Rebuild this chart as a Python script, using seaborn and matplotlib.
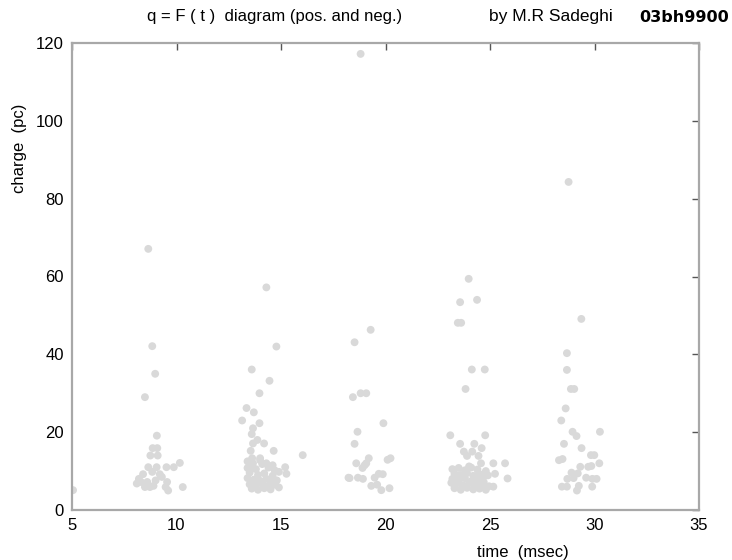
import numpy as np
import pandas as pd
import matplotlib
matplotlib.use("Agg")
import matplotlib.pyplot as plt
import seaborn as sns

# time (msec) / charge (pc), one burst at a time
t_burst1 = [5.05, 8.65, 8.84, 8.98, 8.49, 9.06, 8.86, 9.08, 8.75, 9.1, 8.65, 9.05, 9.52, 9.87,
            10.16, 8.4, 8.84, 9.2, 8.3, 8.6, 9.0, 9.55, 8.49, 8.73, 9.48, 10.3, 9.6, 8.2, 8.9,
            9.3, 8.1]
q_burst1 = [5.1, 67.1, 42.1, 35.0, 29.0, 19.1, 15.9, 15.9, 14.0, 14.0, 11.0, 11.0, 11.0, 11.0,
            12.1, 9.2, 9.8, 9.2, 7.2, 7.2, 7.6, 7.2, 5.9, 5.9, 5.9, 5.9, 5.0, 8.0, 6.2,
            8.5, 6.8]

t_burst2 = [14.3, 14.78, 13.6, 14.45, 13.97, 13.35, 13.7, 13.14, 13.97, 13.66, 13.6, 13.87,
            13.66, 14.19, 13.55, 14.65, 16.04, 13.62, 14.0, 13.66, 14.3, 15.2, 15.26,
            13.4, 13.6, 13.8, 14.1, 14.4, 14.7, 13.5, 13.9, 14.2, 14.6, 14.9, 13.4, 13.7,
            14.0, 14.3, 14.5, 14.8, 13.5, 13.8, 14.1, 14.4, 14.7, 13.6, 13.9, 14.2, 14.5,
            14.9, 13.4, 14.0, 14.6]
q_burst2 = [57.2, 42.0, 36.1, 33.2, 30.0, 26.2, 25.1, 23.0, 22.3, 21.0, 19.5, 18.0,
            17.1, 17.1, 15.2, 15.2, 14.1, 13.3, 13.3, 12.0, 12.0, 11.0, 9.3,
            12.5, 11.2, 10.5, 11.8, 10.9, 10.2, 9.6, 9.0, 9.4, 8.8, 9.8, 8.2, 7.8,
            7.5, 8.0, 7.2, 7.6, 6.6, 6.3, 6.8, 6.2, 6.5, 5.5, 5.2, 5.6, 5.3,
            5.8, 10.8, 12.8, 11.5]

t_burst3 = [18.81, 19.29, 18.52, 18.44, 18.81, 19.08, 19.9, 18.66, 18.52, 19.2, 20.24, 18.6,
            19.08, 19.68, 19.87, 18.23, 18.68, 18.92, 19.48, 19.32, 19.6, 20.19, 19.8, 18.28,
            20.1, 18.9, 19.0]
q_burst3 = [117.2, 46.3, 43.1, 29.0, 30.0, 30.0, 22.3, 20.1, 17.0, 13.3, 13.3, 12.0,
            12.0, 9.3, 9.2, 8.3, 8.3, 8.0, 8.3, 6.2, 6.5, 5.6, 5.1, 8.2,
            12.9, 10.8, 11.5]

t_burst4 = [23.98, 23.57, 24.38, 23.46, 23.62, 24.13, 24.75, 23.83, 23.1, 24.77, 23.57, 24.25,
            24.6, 23.75, 24.15, 23.9, 24.45, 24.57, 25.16, 25.72, 25.24, 25.84, 25.16,
            23.2, 23.5, 23.8, 24.1, 24.4, 24.8, 23.3, 23.6, 23.9, 24.2, 24.5, 24.9, 23.2,
            23.5, 23.8, 24.1, 24.4, 24.7, 23.4, 23.7, 24.0, 24.3, 24.6, 24.95, 23.3, 23.6,
            23.9, 24.2, 24.5, 24.8, 23.15, 24.0, 24.65, 23.45, 24.35]
q_burst4 = [59.4, 53.4, 54.0, 48.1, 48.1, 36.1, 36.1, 31.1, 19.2, 19.2, 17.0, 17.0,
            15.9, 15.0, 15.0, 13.9, 13.9, 12.0, 12.0, 12.0, 9.3, 8.1, 6.0,
            10.5, 10.8, 10.2, 10.9, 10.4, 10.0, 9.3, 9.0, 9.5, 8.8, 9.2, 8.9, 8.0,
            7.6, 8.2, 7.4, 7.9, 7.2, 6.8, 6.4, 6.9, 6.2, 6.6, 6.1, 5.6, 5.2,
            5.7, 5.3, 5.5, 5.2, 7.0, 11.2, 8.3, 8.6, 5.9]

t_burst5 = [28.76, 29.37, 28.68, 28.68, 28.87, 29.03, 28.62, 28.41, 28.95, 29.14, 30.26, 28.54,
            29.38, 29.83, 29.99, 28.47, 30.23, 29.32, 29.7, 29.85, 28.9, 29.2, 28.7, 29.0,
            29.6, 29.9, 30.1, 28.44, 28.68, 29.25, 29.89, 29.16, 28.3]
q_burst5 = [84.3, 49.1, 40.3, 36.0, 31.1, 31.1, 26.1, 23.0, 20.1, 19.0, 20.1, 17.0,
            15.9, 14.1, 14.1, 13.1, 12.0, 11.1, 11.1, 11.3, 9.6, 9.4, 8.0, 8.2,
            8.3, 8.0, 8.0, 6.0, 6.0, 6.2, 6.0, 5.0, 12.8]

x_ticks = [5, 10, 15, 20, 25, 30, 35]
y_ticks = [0, 20, 40, 60, 80, 100, 120]

df = pd.DataFrame({
    "time": t_burst1 + t_burst2 + t_burst3 + t_burst4 + t_burst5,
    "charge": q_burst1 + q_burst2 + q_burst3 + q_burst4 + q_burst5,
})

sns.set_style("white")
plt.rcParams["font.family"] = ["Liberation Sans", "DejaVu Sans"]
plt.rcParams["text.color"] = "black"

fig = plt.figure(figsize=(7.32, 5.6), dpi=100)
ax = fig.add_axes([72 / 732, 1 - 510 / 560, 627 / 732, 467 / 560])

sns.scatterplot(data=df, x="time", y="charge", ax=ax, color="#d9d9d9",
                edgecolor="none", s=32, legend=False)

ax.set_xlim(5, 35)
ax.set_ylim(0, 120)
ax.set_xticks(x_ticks)
ax.set_yticks(y_ticks)
ax.tick_params(direction="in", length=5, width=1, color="#555555",
               top=True, right=True, labelsize=12, labelcolor="black", pad=6)
for sp in ax.spines.values():
    sp.set_color("#a8a8a8")
    sp.set_linewidth(1.6)
    sp.set_visible(True)

ax.set_xlabel("")
ax.set_ylabel("")
fig.text(523 / 732, 1 - 552 / 560, "time  (msec)", ha="center", va="center",
         fontsize=12, color="black")
fig.text(20 / 732, 1 - 148 / 560, "charge  (pc)", ha="center", va="center",
         rotation=90, fontsize=12, color="black")

fig.text(147 / 732, 1 - 16 / 560, "q = F ( t )  diagram (pos. and neg.)",
         ha="left", va="center", fontsize=12, color="black")
fig.text(489 / 732, 1 - 16 / 560, "by M.R Sadeghi", ha="left", va="center",
         fontsize=12.5, color="black")
fig.text(639 / 732, 1 - 17 / 560, "03bh9900", ha="left", va="center", fontsize=11.5,
         fontweight="bold", family="DejaVu Sans", color="black")

fig.savefig("out.png", dpi=100)
